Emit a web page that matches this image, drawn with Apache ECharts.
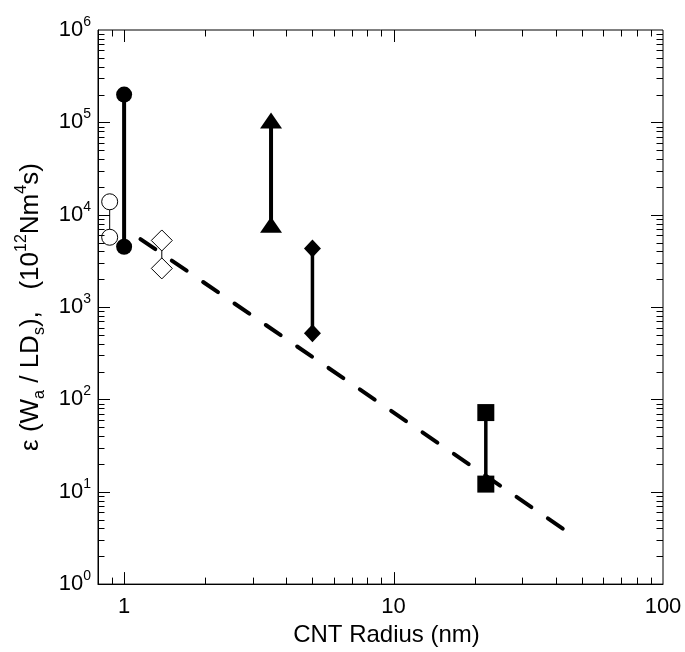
<!DOCTYPE html>
<html><head><meta charset="utf-8">
<script src="https://cdn.jsdelivr.net/npm/echarts@6/dist/echarts.min.js"></script>
<style>html,body{margin:0;padding:0;background:#fff}#c{width:685px;height:652px}</style>
</head><body><div id="c"></div>
<script>
// ---- data ----
const xTickLabels = ['1', '10', '100'];
const yTickExponents = ['0', '1', '2', '3', '4', '5', '6'];
const filledCircles = [[1.0, 2.0e5], [1.0, 4.5e3]];
const openCircles = [[0.884, 1.38e4], [0.884, 5.7e3]];
const openDiamonds = [[1.38, 5.26e3], [1.38, 2.62e3]];
const triangles = [[3.51, 1.05e5], [3.51, 7.8e3]];
const filledDiamonds = [[5.0, 4.3e3], [5.0, 5.2e2]];
const squares = [[22, 72], [22, 12.1]];
const fitLine = [[1.15, 5450], [43.5, 3.8]];
const xMajorTicks = [1, 10];
const xMinorTicks = [0.9, 2, 3, 4, 5, 6, 7, 8, 9, 20, 30, 40, 50, 60, 70, 80, 90];
const yMajorTicks = [10, 100, 1000, 10000, 100000];
const yMinorTicks = [2, 3, 4, 5, 6, 7, 8, 9,
  20, 30, 40, 50, 60, 70, 80, 90,
  200, 300, 400, 500, 600, 700, 800, 900,
  2000, 3000, 4000, 5000, 6000, 7000, 8000, 9000,
  20000, 30000, 40000, 50000, 60000, 70000, 80000, 90000,
  200000, 300000, 400000, 500000, 600000, 700000, 800000, 900000];

const X_MIN = 0.8, X_MAX = 100, Y_MIN = 1, Y_MAX = 1e6;
const FONT = 'Liberation Sans, Arial, sans-serif';

function isPow10(v) { const l = Math.log10(v); return Math.abs(l - Math.round(l)) < 1e-6; }

function tickSeries(values, isX, len) {
  return {
    type: 'custom', silent: true, z: 5,
    data: values.map(v => isX ? [v, 10] : [1, v]),
    renderItem: function (params, api) {
      const ch = [];
      const st = { stroke: '#000', lineWidth: 1 };
      if (isX) {
        const v = api.value(0);
        const b = api.coord([v, Y_MIN]), t = api.coord([v, Y_MAX]);
        const x = Math.round(b[0]) + 0.5;
        ch.push({ type: 'line', shape: { x1: x, y1: b[1], x2: x, y2: b[1] - len }, style: st });
        ch.push({ type: 'line', shape: { x1: x, y1: t[1], x2: x, y2: t[1] + len }, style: st });
      } else {
        const v = api.value(1);
        const l = api.coord([X_MIN, v]), r = api.coord([X_MAX, v]);
        const y = Math.round(l[1]) + 0.5;
        ch.push({ type: 'line', shape: { x1: l[0], y1: y, x2: l[0] + len, y2: y }, style: st });
        ch.push({ type: 'line', shape: { x1: r[0], y1: y, x2: r[0] - len, y2: y }, style: st });
      }
      return { type: 'group', children: ch };
    }
  };
}

function pairSeries(data, symbol, size, lineWidth, filled) {
  return {
    type: 'line', data: data, symbol: symbol, symbolSize: size, showSymbol: true,
    lineStyle: { color: '#000', width: lineWidth },
    itemStyle: filled ? { color: '#000', borderWidth: 0 } : { color: '#fff', borderColor: '#000', borderWidth: 1 },
    z: 3, animation: false
  };
}

const chart = echarts.init(document.getElementById('c'));
chart.setOption({
  backgroundColor: '#fff',
  animation: false,
  grid: { left: 98, right: 22, top: 30, bottom: 59, show: true, borderColor: '#000', borderWidth: 1, backgroundColor: 'transparent' },
  xAxis: {
    type: 'log', logBase: 10, min: X_MIN, max: X_MAX,
    name: 'CNT Radius (nm)', nameLocation: 'middle', nameGap: 30,
    nameTextStyle: { fontFamily: FONT, fontSize: 24, color: '#000', padding: [0, 0, 0, 12] },
    axisLine: { lineStyle: { color: '#000', width: 1 } },
    axisTick: { show: false }, splitLine: { show: false },
    axisLabel: {
      margin: 12, fontFamily: FONT, fontSize: 22, color: '#000', showMinLabel: false,
      formatter: v => isPow10(v) ? xTickLabels[Math.round(Math.log10(v))] : ''
    }
  },
  yAxis: {
    type: 'log', logBase: 10, min: Y_MIN, max: Y_MAX,
    name: 'ε (W{sub|a} / LD{sub|s}),   (10{sup|12}Nm{sup|4}s)',
    nameLocation: 'middle', nameGap: 40, nameRotate: 90,
    nameTextStyle: {
      fontFamily: FONT, fontSize: 26, color: '#000', lineHeight: 34,
      rich: {
        sub: { fontFamily: FONT, fontSize: 16, lineHeight: 16, verticalAlign: 'bottom', color: '#000' },
        sup: { fontFamily: FONT, fontSize: 16, lineHeight: 16, verticalAlign: 'top', color: '#000' }
      }
    },
    axisLine: { lineStyle: { color: '#000', width: 1 } },
    axisTick: { show: false }, splitLine: { show: false },
    axisLabel: {
      margin: 7, color: '#000',
      formatter: v => isPow10(v) ? '{b|10}{s|' + yTickExponents[Math.round(Math.log10(v))] + '}' : '',
      rich: {
        b: { fontFamily: FONT, fontSize: 22, lineHeight: 30, color: '#000' },
        s: { fontFamily: FONT, fontSize: 14, lineHeight: 14, verticalAlign: 'top', color: '#000' }
      }
    }
  },
  series: [
    tickSeries(xMajorTicks, true, 12),
    tickSeries(xMinorTicks, true, 6.5),
    tickSeries(yMajorTicks, false, 12),
    tickSeries(yMinorTicks, false, 6.5),
    {
      type: 'line', data: fitLine, symbol: 'none', z: 4,
      lineStyle: { color: '#000', width: 4, type: [18, 20], cap: 'round' }
    },
    pairSeries(openCircles, 'circle', 16, 1, false),
    pairSeries(filledCircles, 'circle', 16, 4, true),
    pairSeries(openDiamonds, 'diamond', 21, 1, false),
    pairSeries(triangles, 'triangle', [22, 16], 4, true),
    pairSeries(filledDiamonds, 'diamond', [17, 18], 3.5, true),
    pairSeries(squares, 'rect', 17, 3.5, true)
  ]
});
</script></body></html>
